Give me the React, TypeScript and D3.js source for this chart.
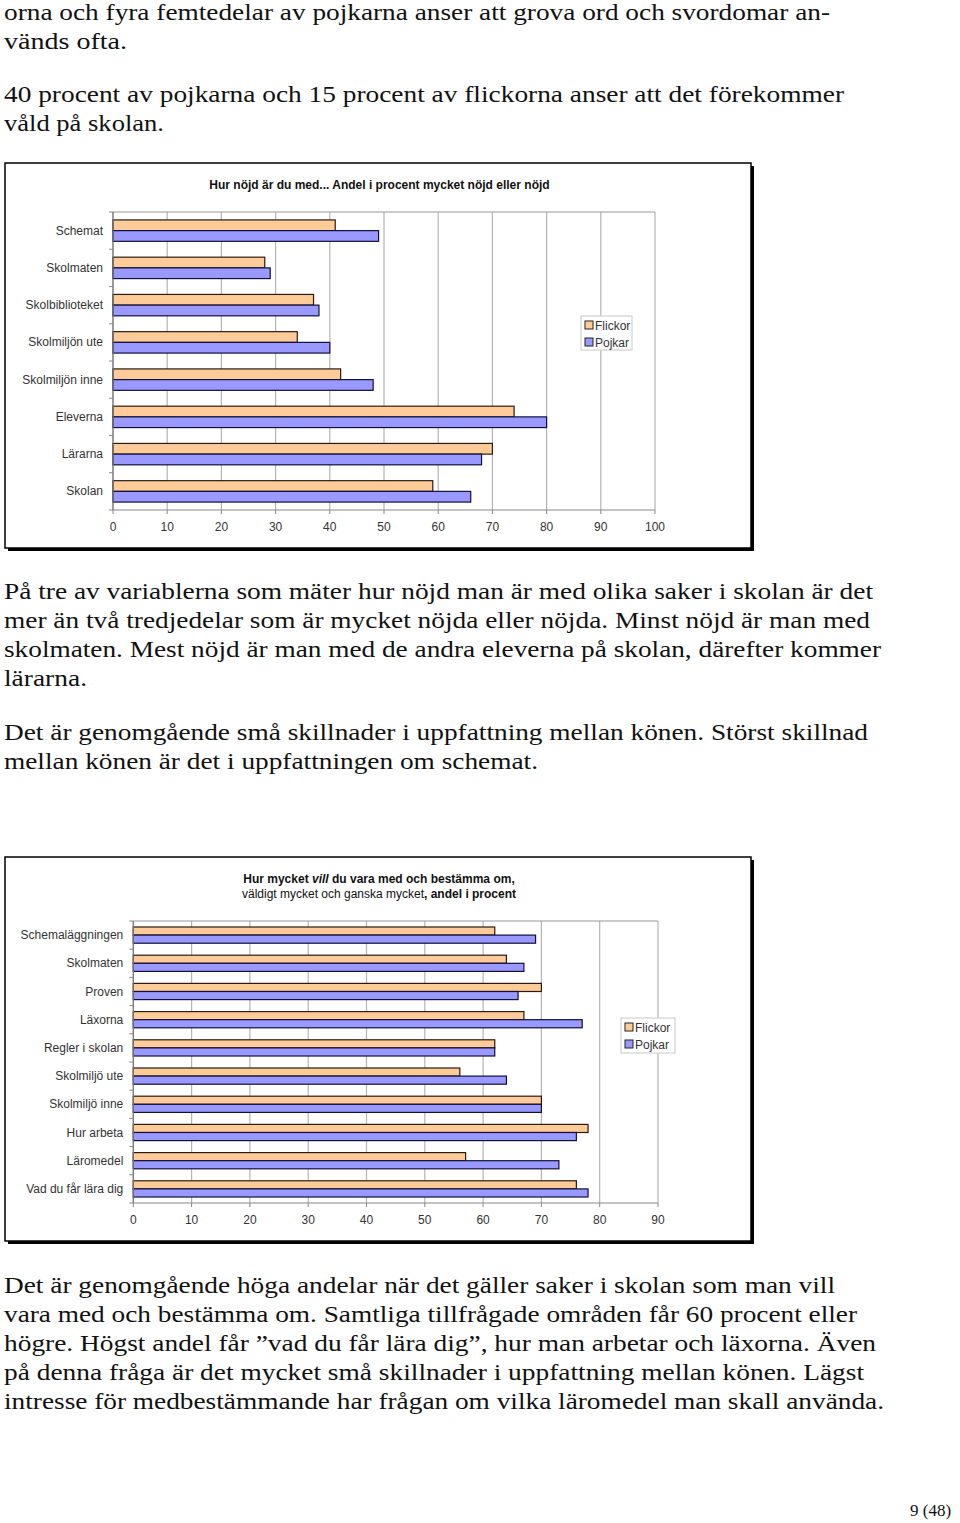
import React from "react";
import * as d3 from "d3";

// ---------- data ----------
const cats1 = ["Schemat", "Skolmaten", "Skolbiblioteket", "Skolmiljön ute", "Skolmiljön inne", "Eleverna", "Lärarna", "Skolan"];
const flickor1 = [41, 28, 37, 34, 42, 74, 70, 59];
const pojkar1 = [49, 29, 38, 40, 48, 80, 68, 66];
const ticks1 = [0, 10, 20, 30, 40, 50, 60, 70, 80, 90, 100];

const cats2 = ["Schemaläggningen", "Skolmaten", "Proven", "Läxorna", "Regler i skolan", "Skolmiljö ute", "Skolmiljö inne", "Hur arbeta", "Läromedel", "Vad du får lära dig"];
const flickor2 = [62, 64, 70, 67, 62, 56, 70, 78, 57, 76];
const pojkar2 = [69, 67, 66, 77, 62, 64, 70, 76, 73, 78];
const ticks2 = [0, 10, 20, 30, 40, 50, 60, 70, 80, 90];

const seriesNames = ["Flickor", "Pojkar"];
const seriesColors = ["#FFCC99", "#9999FF"];

const textTop = [
  { t: "orna och fyra femtedelar av pojkarna anser att grova ord och svordomar an-", y: 20, w: 826 },
  { t: "vänds ofta.", y: 49, w: 123 },
  { t: "40 procent av pojkarna och 15 procent av flickorna anser att det förekommer", y: 102, w: 840 },
  { t: "våld på skolan.", y: 131, w: 160 },
];
const textMid = [
  { t: "På tre av variablerna som mäter hur nöjd man är med olika saker i skolan är det", y: 599, w: 869 },
  { t: "mer än två tredjedelar som är mycket nöjda eller nöjda. Minst nöjd är man med", y: 628, w: 866 },
  { t: "skolmaten. Mest nöjd är man med de andra eleverna på skolan, därefter kommer", y: 657, w: 877 },
  { t: "lärarna.", y: 686, w: 83 },
  { t: "Det är genomgående små skillnader i uppfattning mellan könen. Störst skillnad", y: 740, w: 864 },
  { t: "mellan könen är det i uppfattningen om schemat.", y: 769, w: 534 },
];
const textBottom = [
  { t: "Det är genomgående höga andelar när det gäller saker i skolan som man vill", y: 1293, w: 831 },
  { t: "vara med och bestämma om. Samtliga tillfrågade områden får 60 procent eller", y: 1322, w: 853 },
  { t: "högre. Högst andel får ”vad du får lära dig”, hur man arbetar och läxorna. Även", y: 1351, w: 872 },
  { t: "på denna fråga är det mycket små skillnader i uppfattning mellan könen. Lägst", y: 1380, w: 860 },
  { t: "intresse för medbestämmande har frågan om vilka läromedel man skall använda.", y: 1409, w: 880 },
];

const SANS = "Liberation Sans, Arial, Helvetica, sans-serif";
const SERIF = "Liberation Serif, Times New Roman, Times, serif";

type ChartProps = {
  box: { x0: number; y0: number; x1: number; y1: number };
  plot: { x0: number; y0: number; x1: number; y1: number };
  xMax: number;
  ticks: number[];
  cats: string[];
  f: number[];
  p: number[];
  tickY: number;
  legend: { x: number; y: number; w: number; h: number };
  title: React.ReactNode;
};

function BarChart({ box, plot, xMax, ticks, cats, f, p, tickY, legend, title }: ChartProps) {
  const x = d3.scaleLinear().domain([0, xMax]).range([plot.x0, plot.x1]);
  const y = d3.scaleBand<string>().domain(cats).range([plot.y0, plot.y1]).padding(0);
  const inner = d3.scaleBand<string>().domain(seriesNames).range([0, y.bandwidth()]).paddingInner(0).paddingOuter(0.74);
  const vals = [f, p];
  const boundaries = d3.range(cats.length + 1).map((i) => plot.y0 + i * y.step());
  return (
    <g>
      <rect x={box.x0 + 3} y={box.y0 + 3} width={box.x1 - box.x0} height={box.y1 - box.y0} fill="#000" />
      <rect x={box.x0} y={box.y0} width={box.x1 - box.x0} height={box.y1 - box.y0} fill="#fff" stroke="#000" strokeWidth={1.5} />
      {title}
      {ticks.map((t) => (
        <line key={"g" + t} x1={x(t)} x2={x(t)} y1={plot.y0} y2={plot.y1} stroke="#b4b4b4" strokeWidth={1.2} />
      ))}
      <line x1={plot.x0} x2={plot.x1} y1={plot.y0} y2={plot.y0} stroke="#999" strokeWidth={1.2} />
      {cats.map((c, i) =>
        seriesNames.map((s, j) => (
          <rect
            key={c + s}
            x={x(0)}
            y={(y(c) as number) + (inner(s) as number)}
            width={x(vals[j][i]) - x(0)}
            height={inner.bandwidth()}
            fill={seriesColors[j]}
            stroke={j === 0 ? "#2a1a10" : "#10103a"}
            strokeWidth={1.2}
          />
        ))
      )}
      <line x1={plot.x0} x2={plot.x0} y1={plot.y0} y2={plot.y1} stroke="#777" strokeWidth={1.2} />
      <line x1={plot.x0} x2={plot.x1} y1={plot.y1} y2={plot.y1} stroke="#888" strokeWidth={1.2} />
      {boundaries.map((b, i) => (
        <line key={"lt" + i} x1={plot.x0 - 4} x2={plot.x0} y1={b} y2={b} stroke="#888" strokeWidth={1} />
      ))}
      {ticks.map((t) => (
        <line key={"bt" + t} x1={x(t)} x2={x(t)} y1={plot.y1} y2={plot.y1 + 4} stroke="#888" strokeWidth={1} />
      ))}
      {cats.map((c) => (
        <text key={"cl" + c} x={plot.x0 - 10} y={(y(c) as number) + y.bandwidth() / 2 + 4} textAnchor="end" style={{ fontFamily: SANS, fontSize: 12 }} fill="#333">
          {c}
        </text>
      ))}
      {ticks.map((t) => (
        <text key={"tl" + t} x={x(t)} y={tickY} textAnchor="middle" style={{ fontFamily: SANS, fontSize: 12 }} fill="#333">
          {t}
        </text>
      ))}
      <rect x={legend.x} y={legend.y} width={legend.w} height={legend.h} fill="#fff" stroke="#c8c8c8" strokeWidth={1} />
      {seriesNames.map((s, j) => (
        <g key={"lg" + s}>
          <rect x={legend.x + 4} y={legend.y + 5 + j * 17} width={8} height={8} fill={seriesColors[j]} stroke="#222" strokeWidth={1} />
          <text x={legend.x + 14} y={legend.y + 13.5 + j * 17} style={{ fontFamily: SANS, fontSize: 12 }} fill="#333">
            {s}
          </text>
        </g>
      ))}
    </g>
  );
}

function Para({ lines }: { lines: { t: string; y: number; w: number }[] }) {
  return (
    <g>
      {lines.map((l, i) => (
        <text key={i} x={4} y={l.y} style={{ fontFamily: SERIF, fontSize: 24 }} fill="#111" textLength={l.w} lengthAdjust="spacingAndGlyphs">
          {l.t}
        </text>
      ))}
    </g>
  );
}

export default function App() {
  return (
    <svg width={960} height={1523} style={{ position: "absolute", left: 0, top: 0, display: "block", background: "#fff" }}>
      <rect x={0} y={0} width={960} height={1523} fill="#fff" />
      <Para lines={textTop} />
      <BarChart
        box={{ x0: 5, y0: 163, x1: 751, y1: 548 }}
        plot={{ x0: 113, y0: 212, x1: 655, y1: 510 }}
        xMax={100}
        ticks={ticks1}
        cats={cats1}
        f={flickor1}
        p={pojkar1}
        tickY={531}
        legend={{ x: 581, y: 316, w: 51, h: 34 }}
        title={
          <text x={379.5} y={189} textAnchor="middle" style={{ fontFamily: SANS, fontSize: 12, fontWeight: "bold" }} fill="#111">
            Hur nöjd är du med... Andel i procent mycket nöjd eller nöjd
          </text>
        }
      />
      <Para lines={textMid} />
      <BarChart
        box={{ x0: 5, y0: 857, x1: 751, y1: 1241 }}
        plot={{ x0: 133.3, y0: 921, x1: 658, y1: 1203 }}
        xMax={90}
        ticks={ticks2}
        cats={cats2}
        f={flickor2}
        p={pojkar2}
        tickY={1224}
        legend={{ x: 621, y: 1018, w: 54, h: 35 }}
        title={
          <g>
            <text x={379} y={883} textAnchor="middle" style={{ fontFamily: SANS, fontSize: 12, fontWeight: "bold" }} fill="#111">
              Hur mycket <tspan style={{ fontStyle: "italic" }}>vill</tspan> du vara med och bestämma om,
            </text>
            <text x={379} y={898} textAnchor="middle" style={{ fontFamily: SANS, fontSize: 12 }} fill="#111">
              väldigt mycket och ganska mycket<tspan style={{ fontWeight: "bold" }}>, andel i procent</tspan>
            </text>
          </g>
        }
      />
      <Para lines={textBottom} />
      <text x={910} y={1516} style={{ fontFamily: SERIF, fontSize: 17 }} fill="#111">
        9 (48)
      </text>
    </svg>
  );
}
